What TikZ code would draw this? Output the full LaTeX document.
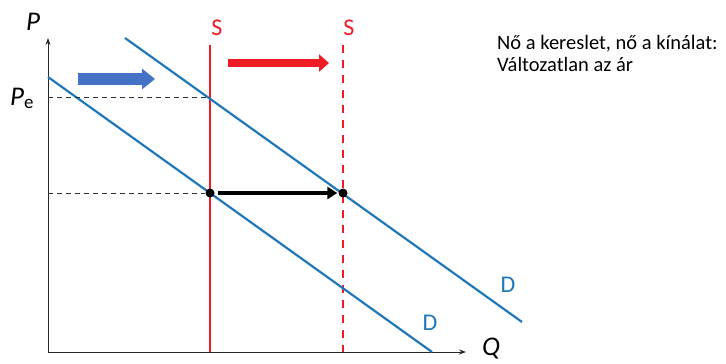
\documentclass[tikz,border=0pt]{standalone}
\usepackage{fontspec}
\setmainfont{Carlito}
\usetikzlibrary{arrows.meta}
\definecolor{dblue}{HTML}{1F78B9}
\definecolor{sred}{HTML}{EE1C25}
\definecolor{ablue}{HTML}{4472C4}
\tikzset{
  axis/.style={draw=black!85, line width=0.9pt, -{Stealth[length=7pt,width=5pt]}},
  demand/.style={draw=dblue, line width=2.2pt},
  supply/.style={draw=sred, line width=2.2pt},
  guide/.style={draw=black!80, line width=0.9pt, dash pattern=on 5pt off 4pt},
  eqdot/.style={circle, fill=black, inner sep=0pt, minimum size=9pt},
  lbl/.style={inner sep=0pt, font=\fontsize{24}{26}\selectfont},
  axlbl/.style={inner sep=0pt, font=\fontsize{27}{29}\selectfont\itshape},
}
\begin{document}
\begin{tikzpicture}[x=1pt,y=-1pt]
\useasboundingbox (0,0) rectangle (726,364);
% axes
\coordinate (O) at (48,352);
\coordinate (Ptop) at (48,38);
\coordinate (Qend) at (466,352);
\draw[axis] (O) -- (Ptop);
\draw[axis] (O) -- (Qend);
\node[axlbl] (P) at (33,22) {P};
\node[axlbl] (Q) at (491,349) {Q};
\node[axlbl, anchor=base west] (Pe) at (10,105) {P\textsubscript{\upshape e}};
% supply
\coordinate (S1t) at (210,45); \coordinate (S1b) at (210,352);
\coordinate (S2t) at (343,45); \coordinate (S2b) at (343,352);
\draw[supply] (S1t) -- (S1b);
\draw[supply, dash pattern=on 8pt off 7pt] (S2t) -- (S2b);
\node[lbl, text=sred] (S1) at (217,28) {S};
\node[lbl, text=sred] (S2) at (349,28) {S};
% demand
\coordinate (D1a) at (48,77); \coordinate (D1b) at (432,352);
\coordinate (D2a) at (125,38); \coordinate (D2b) at (522,322);
\draw[demand] (D1a) -- (D1b);
\draw[demand] (D2a) -- (D2b);
\node[lbl, text=dblue] (D1) at (430,323) {D};
\node[lbl, text=dblue] (D2) at (508,285) {D};
% guides
\coordinate (E0) at (210,97);
\node[eqdot] (E1) at (210,193) {};
\node[eqdot] (E2) at (343,193) {};
\coordinate (G0) at (48,97);
\coordinate (G1) at (48,193);
\draw[guide] (G0) -- (E0);
\draw[guide] (G1) -- (E1);
\draw[line width=3.5pt, -{Triangle[length=10pt,width=12pt]}] (E1.east) ++(3,0) -- ([xshift=-1pt]E2.west);
% shift arrows
\coordinate (BA1) at (78,79); \coordinate (BA2) at (155,79);
\draw[ablue, line width=12pt, -{Triangle[length=13pt,width=20pt]}] (BA1) -- (BA2);
\coordinate (RA1) at (228,63); \coordinate (RA2) at (329,63);
\draw[sred, line width=8pt, -{Triangle[length=10pt,width=17pt]}] (RA1) -- (RA2);
% text
\node[anchor=north west, inner sep=0pt, align=left, font=\fontsize{20.5}{22}\selectfont] (T) at (497,35) {Nő a kereslet, nő a kínálat:\\Változatlan az ár};
\end{tikzpicture}
\end{document}
